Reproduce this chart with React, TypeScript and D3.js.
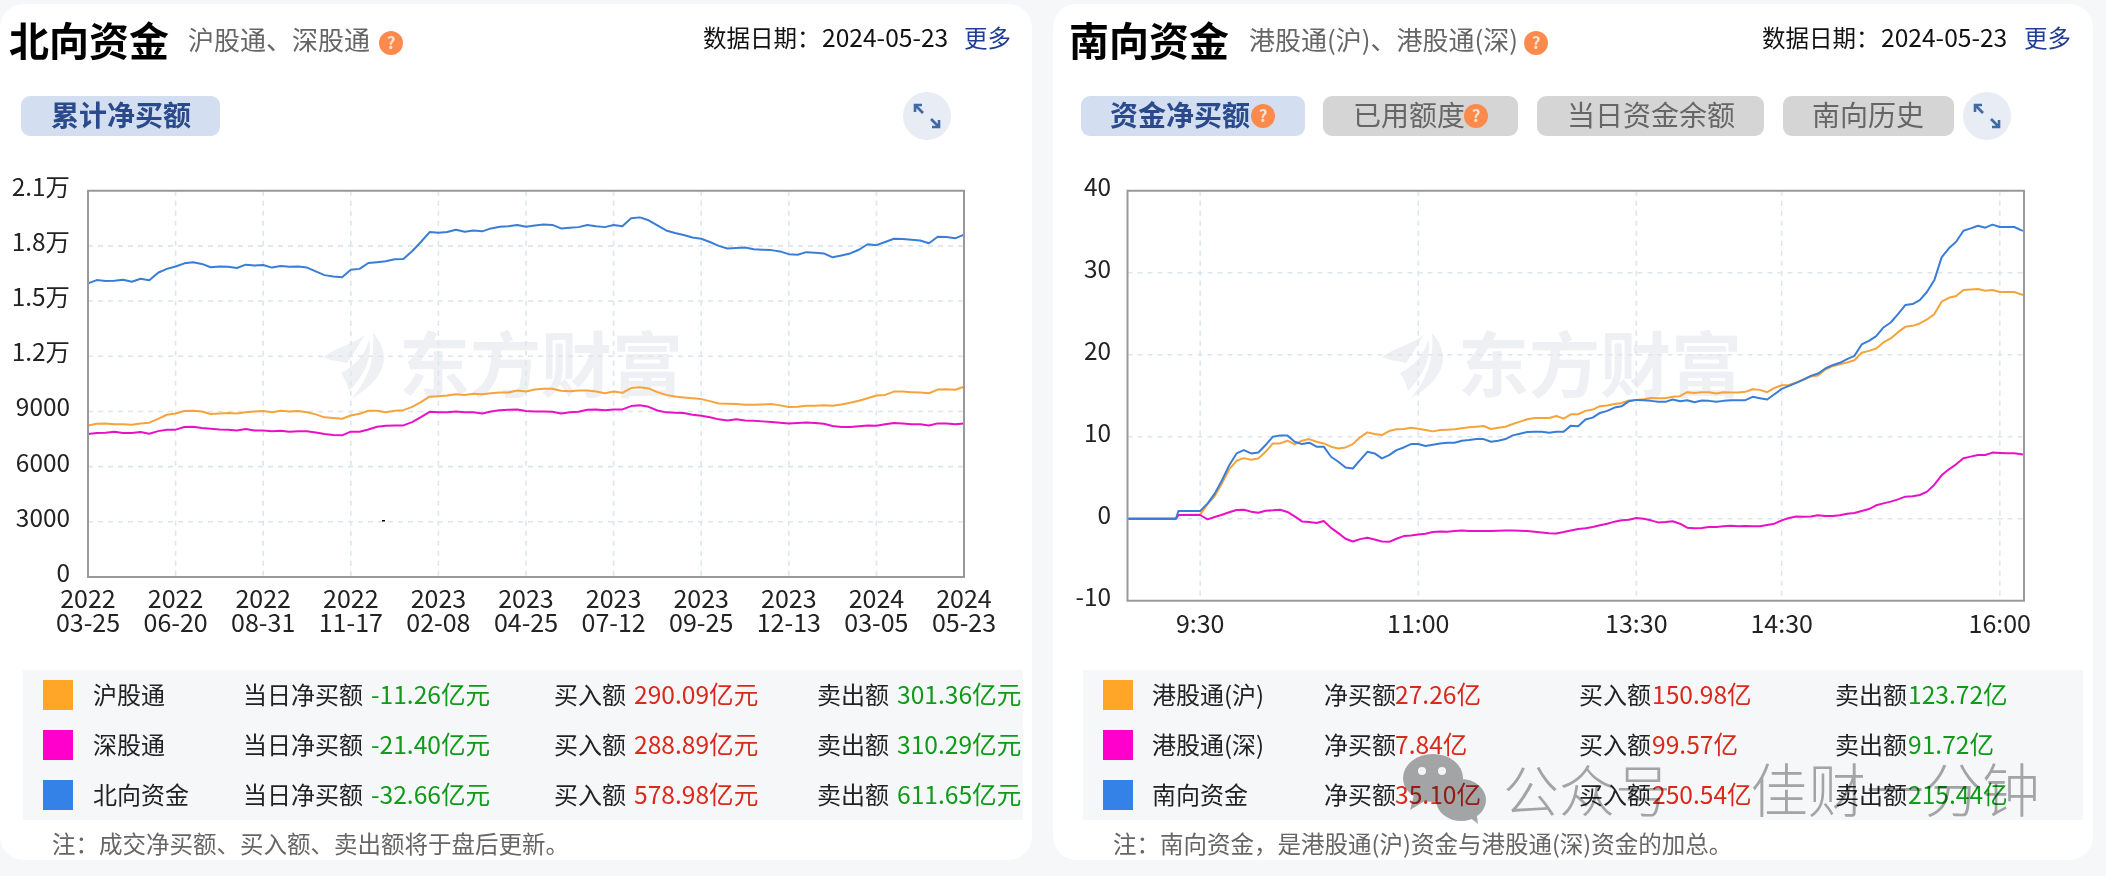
import * as d3 from "d3";

const FONT = '"Noto Sans CJK SC", "Noto Sans", sans-serif';

// north chart, one reading every tenth of a tick interval
const northDates = [
  ["2022", "03-25"], ["2022", "06-20"], ["2022", "08-31"], ["2022", "11-17"],
  ["2023", "02-08"], ["2023", "04-25"], ["2023", "07-12"], ["2023", "09-25"],
  ["2023", "12-13"], ["2024", "03-05"], ["2024", "05-23"],
];
const northTicks = [0, 3000, 6000, 9000, 12000, 15000, 18000, 21000];
const hgt = [
  8240, 8330, 8350, 8310, 8300, 8280, 8350, 8390, 8600, 8820, 8890,
  9020, 9040, 9000, 8860, 8890, 8910, 8890, 8960, 9000, 9020,
  8960, 9040, 9000, 9020, 8960, 8840, 8680, 8640, 8600, 8780,
  8870, 9040, 9040, 8960, 9040, 9070, 9250, 9510, 9800, 9830,
  9870, 9940, 9900, 9960, 9940, 9990, 10030, 10030, 10140, 10080,
  10190, 10230, 10230, 10120, 10100, 10140, 10140, 10080, 9990, 10080,
  10010, 10270, 10320, 10250, 10050, 9900, 9810, 9760, 9720, 9670,
  9560, 9430, 9420, 9400, 9360, 9360, 9380, 9400, 9330, 9240,
  9250, 9310, 9310, 9330, 9310, 9380, 9470, 9580, 9720, 9870,
  9900, 10080, 10080, 10050, 10030, 9990, 10190, 10210, 10180, 10340,
];
const sgt = [
  7770, 7830, 7840, 7900, 7830, 7830, 7880, 7790, 7930, 8010, 8010,
  8150, 8170, 8100, 8060, 8020, 8010, 7970, 8040, 7970, 7970,
  7920, 7950, 7900, 7920, 7920, 7860, 7770, 7720, 7700, 7900,
  7900, 8020, 8170, 8220, 8240, 8240, 8420, 8690, 8980, 8950,
  8960, 9000, 8960, 8950, 8890, 9000, 9070, 9090, 9110, 9020,
  9000, 9000, 8980, 8890, 8950, 8980, 9090, 9110, 9070, 9110,
  9110, 9290, 9340, 9250, 9050, 8950, 8930, 8910, 8820, 8770,
  8680, 8570, 8510, 8570, 8510, 8490, 8460, 8420, 8390, 8350,
  8370, 8400, 8370, 8330, 8210, 8150, 8150, 8190, 8240, 8220,
  8300, 8370, 8350, 8310, 8300, 8240, 8350, 8350, 8300, 8350,
];
const north = [
  15960, 16140, 16090, 16110, 16160, 16050, 16210, 16130, 16540, 16750, 16880,
  17050, 17110, 17020, 16840, 16880, 16860, 16800, 16980, 16930, 16960,
  16820, 16910, 16860, 16880, 16820, 16610, 16410, 16340, 16300, 16700,
  16750, 17070, 17110, 17160, 17270, 17290, 17710, 18210, 18750, 18710,
  18750, 18880, 18770, 18840, 18790, 18950, 19040, 19070, 19140, 19040,
  19110, 19160, 19140, 18950, 18980, 19020, 19140, 19070, 19020, 19130,
  19070, 19500, 19550, 19390, 19110, 18840, 18700, 18590, 18460, 18390,
  18210, 18000, 17860, 17880, 17910, 17820, 17790, 17770, 17700, 17550,
  17520, 17660, 17630, 17590, 17380, 17480, 17590, 17790, 18090, 18040,
  18210, 18390, 18380, 18340, 18290, 18140, 18500, 18480, 18410, 18610,
];

// south chart, minutes after 9:00 with the lunch break removed
const southMinutes = [0, 20, 21, ...d3.range(30, 370, 3), 370];
const southTickMinutes = [30, 120, 210, 270, 360];
const southTickLabels = ["9:30", "11:00", "13:30", "14:30", "16:00"];
const southTicks = [-10, 0, 10, 20, 30, 40];
const sh = [
  0, 0, 0.45,
  0.5, 1.76, 2.76, 4.33, 6.04, 7.06, 7.39, 7.18, 7.35, 8.16, 9.18, 9.18, 9.51, 9.06, 9.51, 9.71, 9.39, 9.18,
  8.78, 8.57, 8.69, 9.1, 9.92, 10.53, 10.33, 10.2, 10.69, 10.9, 10.94, 11.1, 10.98, 10.82, 10.65, 10.82,
  10.86, 10.9, 11.02, 11.14, 11.22, 11.31, 10.94, 11.1, 11.22, 11.55, 11.84, 12.12, 12.29, 12.29, 12.29, 12.53,
  12.2, 12.73,
  12.74, 13.15, 13.31, 13.72, 13.8, 14.0, 14.12, 14.41, 14.49, 14.57, 14.73, 14.69, 14.69, 14.86, 14.94, 15.43,
  15.34, 15.43, 15.43, 15.26, 15.43, 15.38, 15.38, 15.47, 15.79, 15.71, 15.43, 15.95, 16.28, 16.32, 16.61, 16.97,
  17.34, 17.46, 18.19, 18.6, 18.84, 19.05, 19.33, 20.23, 20.47, 20.76, 21.49, 21.98, 22.75, 23.4, 23.52, 23.81,
  24.3, 24.95, 26.46, 26.94, 27.15, 27.88, 27.96, 28.0, 27.8, 27.88, 27.64, 27.64, 27.64, 27.35,
  27.26,
];
const sz = [
  0, 0, 0.45,
  0.45, -0.08, 0.2, 0.49, 0.78, 1.06, 1.1, 0.86, 0.73, 0.98, 1.02, 1.1, 0.82, 0.29, -0.33, -0.41, -0.53, -0.29,
  -1.12, -1.76, -2.45, -2.78, -2.49, -2.33, -2.53, -2.78, -2.82, -2.45, -2.12, -2.04, -1.92, -1.84, -1.63, -1.55,
  -1.59, -1.51, -1.43, -1.51, -1.51, -1.51, -1.51, -1.47, -1.43, -1.43, -1.47, -1.51, -1.59, -1.67, -1.76, -1.8,
  -1.63, -1.43,
  -1.26, -1.17, -1.01, -0.81, -0.61, -0.36, -0.2, -0.12, 0.08, 0, -0.2, -0.45, -0.4, -0.32, -0.61, -1.09,
  -1.17, -1.13, -1.01, -1.01, -0.93, -0.85, -0.93, -0.89, -0.93, -0.93, -0.77, -0.61,
  -0.2, 0.08, 0.28, 0.24, 0.28, 0.41, 0.33, 0.33, 0.41, 0.61, 0.69, 0.94, 1.18, 1.63, 1.87, 2.08, 2.36, 2.69,
  2.73, 2.89, 3.3, 4.15, 5.29, 6.02, 6.63, 7.37, 7.57, 7.77, 7.77, 8.06, 8.02, 7.98, 7.98, 7.86,
  7.84,
];
const south = [
  0, 0, 0.94,
  0.94, 1.84, 3.06, 4.69, 6.53, 7.96, 8.37, 7.96, 8.08, 8.98, 10.0, 10.16, 10.16, 9.39, 9.1, 9.27, 8.78, 8.78,
  7.55, 6.94, 6.24, 6.12, 7.14, 8.16, 7.96, 7.35, 7.76, 8.37, 8.69, 9.1, 9.1, 8.86, 9.02, 9.18,
  9.27, 9.27, 9.51, 9.59, 9.71, 9.71, 9.39, 9.51, 9.71, 10.16, 10.37, 10.57, 10.61, 10.61, 10.49, 10.61,
  10.61, 11.35,
  11.27, 12.09, 12.33, 12.9, 13.15, 13.55, 13.72, 14.33, 14.49, 14.45, 14.37, 14.25, 14.25, 14.53, 14.33, 14.45,
  14.2, 14.41, 14.37, 14.25, 14.37, 14.45, 14.45, 14.45, 14.86, 14.69, 14.53, 15.18, 15.83, 16.2, 16.56, 16.97,
  17.42, 17.7, 18.32, 18.72, 19.01, 19.45, 19.86, 21.25, 21.69, 22.26, 23.32, 23.93, 24.95, 26.05, 26.17, 26.66,
  27.68, 29.1, 31.87, 32.97, 33.78, 35.12, 35.41, 35.73, 35.49, 35.86, 35.57, 35.57, 35.57, 35.16,
  35.1,
];

const northRows = [
  ["沪股通", "-11.26亿元", "290.09亿元", "301.36亿元"],
  ["深股通", "-21.40亿元", "288.89亿元", "310.29亿元"],
  ["北向资金", "-32.66亿元", "578.98亿元", "611.65亿元"],
];
const southRows = [
  ["港股通(沪)", "27.26亿", "150.98亿", "123.72亿"],
  ["港股通(深)", "7.84亿", "99.57亿", "91.72亿"],
  ["南向资金", "35.10亿", "250.54亿", "215.44亿"],
];

const ORANGE = "#f4a43a";
const MAGENTA = "#ea10c6";
const BLUE = "#3a7dd6";
const swatches = ["#ffa528", "#ff00cc", "#3482e8"];
const RED = "#d9291c";
const GREEN = "#109a1a";

function Label(props: any) {
  return <text fontFamily={FONT} {...props} />;
}

function Help({ cx, cy }: { cx: number; cy: number }) {
  return (
    <g>
      <circle cx={cx} cy={cy} r={12} fill="#fb8a4c" />
      <Label x={cx} y={cy + 6} fontSize={17} fontWeight={700} fill="#fde0cc" textAnchor="middle">?</Label>
    </g>
  );
}

function Expand({ cx, cy }: { cx: number; cy: number }) {
  const s = "#3f6aa3";
  return (
    <g>
      <circle cx={cx} cy={cy} r={24} fill="#e7ecf5" />
      <g fill="none" stroke={s} strokeWidth={2.6}>
        <path d={`M${cx - 4} ${cy - 3} L${cx - 12} ${cy - 11}`} />
        <path d={`M${cx - 12} ${cy - 4} V${cy - 11} H${cx - 5}`} />
        <path d={`M${cx + 4} ${cy + 3} L${cx + 12} ${cy + 11}`} />
        <path d={`M${cx + 12} ${cy + 4} V${cy + 11} H${cx + 5}`} />
      </g>
    </g>
  );
}

function Tab({ x, w, text, on, help, tx }: { x: number; w: number; text: string; on?: boolean; help?: number; tx: number }) {
  return (
    <g>
      <rect x={x} y={96} width={w} height={40} rx={9} fill={on ? "#d3dff0" : "#d5d5d5"} />
      <Label x={tx} y={126} fontSize={28} fontWeight={on ? 700 : 400} fill={on ? "#2b4a8b" : "#666"}>{text}</Label>
      {help ? <Help cx={help} cy={116} /> : null}
    </g>
  );
}

function Watermark({ x }: { x: number }) {
  return (
    <g fill="#eff0f3">
      <g transform={`translate(${x},333)`}>
        <path d="M0 24 C14 14 28 12 42 2 C34 14 30 22 24 30 C16 28 8 28 0 24Z" />
        <path d="M18 40 C34 32 44 18 46 6 C50 26 40 44 26 58 C24 50 22 46 18 40Z" />
        <path d="M50 0 C68 20 66 44 28 66 C48 44 52 20 50 0Z" />
      </g>
      <Label x={x + 76} y={391} fontSize={71} fontWeight={700}>东方财富</Label>
    </g>
  );
}

function Lines({ xs, x, y, series }: { xs: number[]; x: any; y: any; series: [number[], string][] }) {
  const line = d3
    .line<number>()
    .x((_, i) => x(xs[i]))
    .y((d) => y(d));
  return (
    <g fill="none" strokeWidth={2} strokeLinejoin="round">
      {series.map(([values, color]) => (
        <path key={color} d={line(values) ?? ""} stroke={color} />
      ))}
    </g>
  );
}

function Frame({ l, r, t, b }: { l: number; r: number; t: number; b: number }) {
  return (
    <g fill="none" stroke="#999" strokeWidth={2}>
      <path d={`M${l} ${t} H${r} V${b} H${l} Z`} />
    </g>
  );
}

function Header({ title, sub, titleX, subX, help, dateX, moreX }: any) {
  return (
    <g>
      <Label x={titleX} y={56} fontSize={40} fontWeight={700} fill="#000">{title}</Label>
      <Label x={subX} y={50} fontSize={26} fill="#666">{sub}</Label>
      <Help cx={help} cy={43} />
      <Label x={dateX} y={47} fontSize={23.5} fill="#111">数据日期：</Label>
      <Label x={dateX + 119} y={47} fontSize={24.6} fill="#111">2024-05-23</Label>
      <Label x={moreX} y={47} fontSize={23.5} fill="#1f3d94">更多</Label>
    </g>
  );
}

function Legend({ bandX, bandW, swatchX, rows, labels, cols, netColor }: any) {
  return (
    <g>
      <rect x={bandX} y={670} width={bandW} height={150} fill="#f6f7f9" />
      {rows.map((row: string[], i: number) => {
        const by = 704 + i * 50;
        return (
          <g key={row[0]} fontSize={24}>
            <rect x={swatchX} y={680 + i * 50} width={30} height={30} fill={swatches[i]} />
            <Label x={cols[0]} y={by} fill="#222">{row[0]}</Label>
            <Label x={cols[1]} y={by} fill="#222">{labels[0]}</Label>
            <Label x={cols[2]} y={by} fontSize={24.6} fill={netColor}>{row[1]}</Label>
            <Label x={cols[3]} y={by} fill="#222">{labels[1]}</Label>
            <Label x={cols[4]} y={by} fontSize={24.6} fill={RED}>{row[2]}</Label>
            <Label x={cols[5]} y={by} fill="#222">{labels[2]}</Label>
            <Label x={cols[6]} y={by} fontSize={24.6} fill={GREEN}>{row[3]}</Label>
          </g>
        );
      })}
    </g>
  );
}

function NorthPanel() {
  const L = 88, R = 964, T = 190.7, B = 577;
  const x = d3.scaleLinear().domain([0, 100]).range([L, R]);
  const y = d3.scaleLinear().domain([0, 21000]).range([B, T]);
  const tickIdx = northDates.map((_, i) => i * 10);
  const fmt = (v: number) => (v >= 12000 ? `${v / 10000}万` : `${v}`);
  return (
    <g>
      <rect x={0} y={4} width={1032} height={856} rx={24} fill="#fff" />
      <Header title="北向资金" sub="沪股通、深股通" titleX={9} subX={188} help={391} dateX={703} moreX={964} />
      <Tab x={21} w={199} text="累计净买额" on tx={51} />
      <Expand cx={927} cy={116} />
      <Watermark x={323} />
      <g stroke="#dbe6ee" strokeWidth={1.6} strokeDasharray="5 5">
        {northTicks.slice(1, -1).map((t) => (
          <line key={t} x1={L} x2={R} y1={y(t)} y2={y(t)} />
        ))}
        {tickIdx.slice(1, -1).map((t) => (
          <line key={t} x1={x(t)} x2={x(t)} y1={T} y2={B} />
        ))}
      </g>
      <Lines xs={d3.range(101)} x={x} y={y} series={[[hgt, ORANGE], [sgt, MAGENTA], [north, BLUE]]} />
      <Frame l={L} r={R} t={T} b={B} />
      <rect x={382} y={520} width={3} height={1.5} fill="#000" />
      {northTicks.map((t) => (
        <Label key={t} x={70} y={y(t) + 5} fontSize={24.4} fill="#222" textAnchor="end">{fmt(t)}</Label>
      ))}
      {northDates.map(([yr, md], i) => (
        <g key={md} fontSize={25} fill="#222" textAnchor="middle">
          <Label x={x(tickIdx[i])} y={608}>{yr}</Label>
          <Label x={x(tickIdx[i])} y={632}>{md}</Label>
        </g>
      ))}
      <Legend
        bandX={23} bandW={1000} swatchX={43} rows={northRows} netColor={GREEN}
        labels={["当日净买额", "买入额", "卖出额"]} cols={[93, 243, 371, 554, 634, 817, 897]}
      />
      <Label x={52} y={853} fontSize={23.5} fill="#666">注：成交净买额、买入额、卖出额将于盘后更新。</Label>
    </g>
  );
}

function SouthPanel() {
  const L = 1127.5, R = 2024, T = 190.7, B = 600.7;
  const x = d3.scaleLinear().domain([0, 370]).range([L, R]);
  const y = d3.scaleLinear().domain([-10, 40]).range([B, T]);
  return (
    <g>
      <rect x={1053} y={4} width={1040} height={856} rx={24} fill="#fff" />
      <Header title="南向资金" sub="港股通(沪)、港股通(深)" titleX={1069} subX={1249} help={1536} dateX={1762} moreX={2024} />
      <Tab x={1081} w={224} text="资金净买额" on help={1263} tx={1110} />
      <Tab x={1323} w={195} text="已用额度" help={1476} tx={1353} />
      <Tab x={1537} w={227} text="当日资金余额" tx={1567} />
      <Tab x={1783} w={171} text="南向历史" tx={1812} />
      <Expand cx={1987} cy={116} />
      <Watermark x={1382} />
      <g stroke="#dbe6ee" strokeWidth={1.6} strokeDasharray="5 5">
        {southTicks.slice(1, -1).map((t) => (
          <line key={t} x1={L} x2={R} y1={y(t)} y2={y(t)} />
        ))}
        {southTickMinutes.map((t) => (
          <line key={t} x1={x(t)} x2={x(t)} y1={T} y2={B} />
        ))}
      </g>
      <Lines xs={southMinutes} x={x} y={y} series={[[sh, ORANGE], [sz, MAGENTA], [south, BLUE]]} />
      <Frame l={L} r={R} t={T} b={B} />
      {southTicks.map((t) => (
        <Label key={t} x={1111} y={y(t) + 5} fontSize={24.4} fill="#222" textAnchor="end">{t}</Label>
      ))}
      {southTickMinutes.map((t, i) => (
        <Label key={t} x={x(t)} y={633} fontSize={25} fill="#222" textAnchor="middle">{southTickLabels[i]}</Label>
      ))}
      <Legend
        bandX={1083} bandW={1000} swatchX={1103} rows={southRows} netColor={RED}
        labels={["净买额", "买入额", "卖出额"]} cols={[1152, 1324, 1395, 1579, 1652, 1835, 1908]}
      />
      <Label x={1113} y={853} fontSize={23.5} fill="#666">注：南向资金，是港股通(沪)资金与港股通(深)资金的加总。</Label>
    </g>
  );
}

function WeChatMark() {
  return (
    <g>
      <g fill="#a9a9a9" style={{ mixBlendMode: "multiply" }}>
        <ellipse cx={1433} cy={778} rx={30} ry={24} />
        <path d="M1414 795 L1410 810 L1426 800 Z" />
        <ellipse cx={1461} cy={800} rx={25} ry={21} />
        <path d="M1468 816 L1478 824 L1476 810 Z" />
        <Label x={1503} y={812} fontSize={56} fontWeight={300}>公众号</Label>
        <Label x={1750} y={812} fontSize={58} fontWeight={300}>佳财一分钟</Label>
      </g>
      <circle cx={1422} cy={771} r={4} fill="#f4f4f4" />
      <circle cx={1442} cy={771} r={4} fill="#f4f4f4" />
    </g>
  );
}

export default function App() {
  return (
    <svg
      width={2106}
      height={876}
      viewBox="0 0 2106 876"
      style={{ position: "absolute", left: 0, top: 0, display: "block" }}
    >
      <rect width={2106} height={876} fill="#f6f7f9" />
      <NorthPanel />
      <SouthPanel />
      <WeChatMark />
    </svg>
  );
}
